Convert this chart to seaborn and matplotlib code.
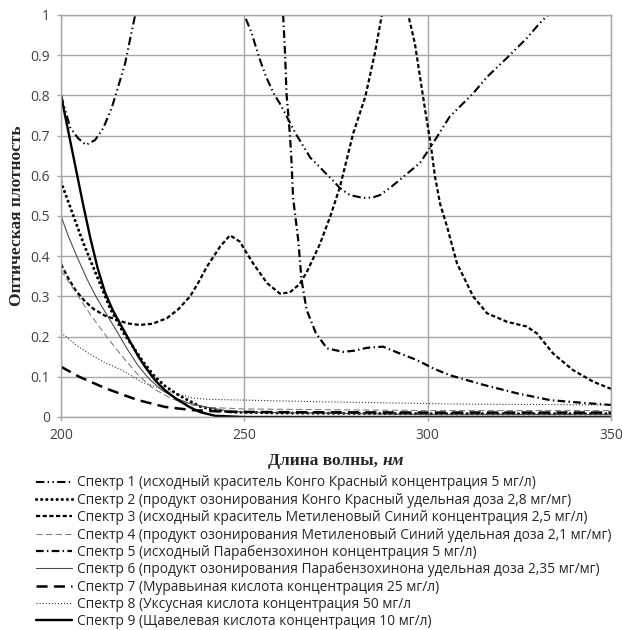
import numpy as np
import pandas as pd
import matplotlib
matplotlib.use("Agg")
import matplotlib.pyplot as plt
import seaborn as sns
from matplotlib.ticker import FuncFormatter, MultipleLocator
from matplotlib.offsetbox import TextArea, HPacker, AnchoredOffsetbox

# ---------------- data ----------------
wl1 = [200, 202.5, 204.7, 206.8, 209.3, 211.5, 213.8, 215.6, 217.5, 218.8, 220, 221,
       226, 235, 244, 250, 252, 254, 256, 258, 260, 262, 264, 266, 268, 270, 272,
       274, 276, 278.8, 282.4, 285, 287, 290, 292.4, 295, 297.9, 301.4, 306, 312.4,
       316.2, 321.6, 327, 330.6, 332.8, 336]
ab1 = [0.80, 0.72, 0.693, 0.677, 0.689, 0.718, 0.768, 0.822, 0.88, 0.938, 0.99, 1.03,
       1.2, 1.3, 1.15, 1.0, 0.955, 0.895, 0.845, 0.805, 0.775, 0.74, 0.705, 0.675,
       0.645, 0.627, 0.608, 0.59, 0.57, 0.552, 0.545, 0.546, 0.552, 0.572, 0.59,
       0.61, 0.632, 0.68, 0.747, 0.805, 0.846, 0.893, 0.942, 0.98, 1.0, 1.04]

wl2 = [200, 202, 204, 206, 208, 210.6, 213.4, 217, 220.2, 222.5, 225.6, 228.4, 231.6,
       235, 238, 242, 247, 260, 300, 350]
ab2 = [0.585, 0.535, 0.485, 0.435, 0.39, 0.333, 0.27, 0.21, 0.167, 0.136, 0.10, 0.077,
       0.057, 0.04, 0.026, 0.017, 0.012, 0.01, 0.008, 0.008]

wl3 = [200, 202, 204, 206.5, 209, 212, 215.5, 218, 221.5, 225, 228.9, 232, 235.2,
       237.5, 239.8, 243.4, 246.1, 248.8, 250.5, 252.4, 256.2, 259.7, 262.4, 265,
       267, 270.6, 273.4, 276.1, 279.7, 283, 285.6, 287.5, 291, 294.7, 296.5, 297.9,
       299.3, 300.8, 302, 303.4, 305.3, 308, 312.4, 316.2, 321.6, 327, 329.8, 334.2,
       339.6, 345.1, 350]
ab3 = [0.38, 0.345, 0.315, 0.288, 0.268, 0.252, 0.241, 0.233, 0.229, 0.232, 0.246,
       0.268, 0.30, 0.335, 0.374, 0.424, 0.452, 0.436, 0.41, 0.382, 0.333, 0.307,
       0.31, 0.33, 0.36, 0.43, 0.498, 0.573, 0.706, 0.797, 0.905, 1.0, 1.12, 1.0,
       0.93, 0.847, 0.764, 0.68, 0.598, 0.53, 0.473, 0.382, 0.30, 0.258, 0.237,
       0.225, 0.208, 0.158, 0.117, 0.088, 0.07]

wl4 = [200, 204, 208, 212, 216.6, 221, 225, 230, 235, 240, 250, 300, 350]
ab4 = [0.365, 0.31, 0.255, 0.205, 0.152, 0.105, 0.072, 0.046, 0.031, 0.024, 0.02, 0.016, 0.016]

wl5 = [259, 260.6, 261.1, 261.5, 262.4, 262.8, 263.3, 264.7, 265.6, 267, 269.5,
       272.5, 276.9, 280, 283.4, 287.8, 292.4, 297, 301.5, 306, 315.2, 324.3,
       333.4, 342.5, 350]
ab5 = [1.2, 0.996, 0.905, 0.805, 0.706, 0.648, 0.545, 0.44, 0.341, 0.266, 0.209,
       0.171, 0.162, 0.165, 0.172, 0.175, 0.158, 0.142, 0.121, 0.104, 0.08, 0.059,
       0.042, 0.035, 0.03]

wl6 = [200, 202, 204.3, 207, 209.5, 212, 215.5, 218, 221, 224, 227.5, 231, 235, 240,
       245, 250, 300, 350]
ab6 = [0.50, 0.45, 0.40, 0.345, 0.30, 0.262, 0.209, 0.17, 0.128, 0.095, 0.067, 0.048,
       0.034, 0.024, 0.016, 0.012, 0.006, 0.006]

wl7 = [200, 205, 212, 217, 221, 228.4, 236, 245, 260, 300, 350]
ab7 = [0.125, 0.10, 0.072, 0.055, 0.042, 0.025, 0.017, 0.013, 0.012, 0.011, 0.011]

wl8 = [200, 204, 207.4, 212, 216.6, 222, 228, 232, 236, 240, 250, 270, 290, 310, 330, 350]
ab8 = [0.21, 0.18, 0.159, 0.135, 0.117, 0.087, 0.068, 0.057, 0.047, 0.044, 0.042,
       0.038, 0.035, 0.032, 0.031, 0.03]

wl9 = [200, 202, 204, 206, 208, 210, 212, 214, 216.6, 219, 221, 223, 225.6, 228.4,
       231.6, 235, 238, 242, 250, 300, 350]
ab9 = [0.80, 0.71, 0.62, 0.53, 0.445, 0.37, 0.31, 0.268, 0.224, 0.185, 0.152, 0.124,
       0.092, 0.066, 0.044, 0.025, 0.012, 0.003, 0.0, 0.0, 0.0]

labels = [
    "Спектр 1 (исходный краситель Конго Красный концентрация 5 мг/л)",
    "Спектр 2 (продукт озонирования Конго Красный удельная доза 2,8 мг/мг)",
    "Спектр 3 (исходный краситель Метиленовый Синий концентрация 2,5 мг/л)",
    "Спектр 4 (продукт озонирования Метиленовый Синий удельная доза 2,1 мг/мг)",
    "Спектр 5 (исходный Парабензохинон концентрация 5 мг/л)",
    "Спектр 6 (продукт озонирования Парабензохинона удельная доза 2,35 мг/мг)",
    "Спектр 7 (Муравьиная кислота концентрация 25 мг/л)",
    "Спектр 8 (Уксусная кислота концентрация 50 мг/л",
    "Спектр 9 (Щавелевая кислота концентрация 10 мг/л)",
]
x_label_main = "Длина волны,"
x_label_unit = "нм"
y_label = "Оптическая плотность"

# ---------------- style ----------------
sns.set_theme(style="white")
plt.rcParams['font.family'] = ['Open Sans', 'DejaVu Sans']
plt.rcParams['lines.scale_dashes'] = False

series = [(wl1, ab1), (wl2, ab2), (wl3, ab3), (wl4, ab4), (wl5, ab5),
          (wl6, ab6), (wl7, ab7), (wl8, ab8), (wl9, ab9)]
line_styles = [
    dict(color='black', linewidth=1.5, linestyle=(0, (6, 2.4, 1, 2.4, 1, 2.4))),
    dict(color='black', linewidth=2.2, linestyle=(0, (0.1, 3.6)), dash_capstyle='round'),
    dict(color='black', linewidth=1.6, linestyle=(0, (3.0, 1.8))),
    dict(color='#808080', linewidth=0.8, linestyle=(0, (4.5, 2.4))),
    dict(color='black', linewidth=1.6, linestyle=(0, (5.5, 2.4, 1, 2.4))),
    dict(color='#4d4d4d', linewidth=0.8, linestyle='-'),
    dict(color='black', linewidth=1.8, linestyle=(0, (8, 4.5))),
    dict(color='#333333', linewidth=0.8, linestyle=(0, (0.8, 1.4))),
    dict(color='black', linewidth=1.7, linestyle='-'),
]

fig = plt.figure(figsize=(6.22, 6.30), dpi=100)
ax = fig.add_axes([61/622, 213/630, 550/622, 402/630])

for (wl, ab), lab, st in zip(series, labels, line_styles):
    df = pd.DataFrame({'wl': wl, 'ab': ab})
    sns.lineplot(data=df, x='wl', y='ab', ax=ax, label=lab, legend=False,
                 errorbar=None, **st)

ax.set_xlim(200, 350)
ax.set_ylim(0, 1)
ax.xaxis.set_major_locator(MultipleLocator(50))
ax.yaxis.set_major_locator(MultipleLocator(0.1))
ax.yaxis.set_major_formatter(FuncFormatter(lambda v, _: f"{round(v, 1):g}"))
ax.set_xlabel("")
ax.set_ylabel("")
ax.grid(True, color='#a6a6a6', linewidth=1.0)
ax.set_axisbelow(True)
for sp in ax.spines.values():
    sp.set_color('#a6a6a6')
    sp.set_linewidth(1.0)
ax.tick_params(bottom=True, left=True, direction='out', length=3, width=1,
               color='#a6a6a6', labelsize=10, labelcolor='#404040', pad=5)

if ax.get_legend() is not None:
    ax.get_legend().remove()

handles, labs = ax.get_legend_handles_labels()
fig.legend(handles, labs, loc='upper left', bbox_to_anchor=(36/622, 1 - 475.5/630),
           bbox_transform=fig.transFigure, frameon=False, fontsize=9.9,
           handlelength=2.65, handletextpad=0.35, labelspacing=0.17,
           borderpad=0, borderaxespad=0)

fig.text(17/622, 1 - 216/630, y_label, rotation=90, ha='center', va='center',
         family='Liberation Serif', weight='bold', fontsize=12.5)

t1 = TextArea(x_label_main, textprops=dict(family='Liberation Serif', weight='bold', size=12.5))
t2 = TextArea(x_label_unit, textprops=dict(family='Liberation Serif', weight='bold',
                                           style='italic', size=12.5))
box = HPacker(children=[t1, t2], align='baseline', pad=0, sep=4)
anch = AnchoredOffsetbox(loc='center', child=box, pad=0, frameon=False,
                         bbox_to_anchor=(336/622, 1 - 461/630),
                         bbox_transform=fig.transFigure, borderpad=0)
fig.add_artist(anch)

fig.savefig("out.png", dpi=100)
